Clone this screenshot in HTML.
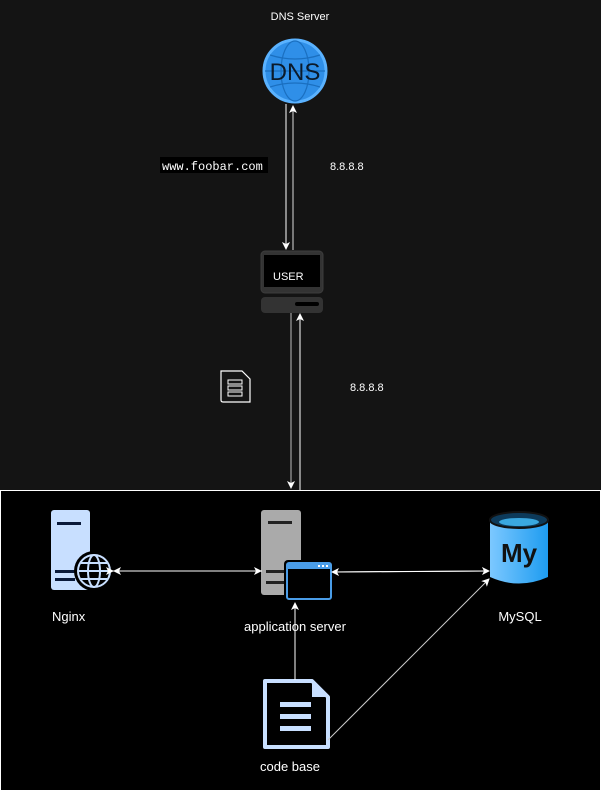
<!DOCTYPE html>
<html><head><style>
body{margin:0;width:601px;height:791px;background:#141414;overflow:hidden;font-family:"Liberation Sans",sans-serif;}
</style></head><body>
<svg width="601" height="791" xmlns="http://www.w3.org/2000/svg" style="position:absolute;left:0;top:0">
<defs>
<marker id="a" markerWidth="8" markerHeight="8" refX="7" refY="4" orient="auto" markerUnits="userSpaceOnUse"><path d="M0,0 L8,4 L0,8 L2,4z" fill="#fff"/></marker>
<linearGradient id="db" x1="0" x2="1"><stop offset="0" stop-color="#7cc8ff"/><stop offset="1" stop-color="#1e9cf0"/></linearGradient>
</defs>
<rect x="0" y="0" width="601" height="490" fill="#141414"/>
<rect x="0.5" y="490.5" width="600" height="300" fill="#000" stroke="#fff" stroke-width="1"/>
<text x="300" y="20" fill="#fff" font-size="11" text-anchor="middle">DNS Server</text>
<!-- DNS globe -->
<circle cx="295" cy="71" r="31" fill="#2f8fe8" stroke="#5ab2ff" stroke-width="3"/>
<g stroke="#1a6fc0" fill="none" stroke-width="1.2"><ellipse cx="295" cy="71" rx="14" ry="30"/><line x1="265" y1="71" x2="325" y2="71"/><path d="M270 55 Q295 63 320 55 M270 87 Q295 79 320 87"/></g>
<text x="295" y="80" fill="#0b1a2a" font-size="24" text-anchor="middle">DNS</text>
<!-- DNS arrows -->
<line x1="286" y1="104" x2="286" y2="249" stroke="#fff" marker-end="url(#a)"/>
<line x1="293" y1="250" x2="293" y2="106" stroke="#ddd" marker-end="url(#a)"/>
<rect x="160" y="157" width="108" height="16" fill="#000"/>
<text x="162" y="170" fill="#fff" font-size="12" font-family="Liberation Mono,monospace">www.foobar.com</text>
<text x="330" y="170" fill="#fff" font-size="11">8.8.8.8</text>
<!-- user -->
<rect x="261" y="251" width="62" height="42" rx="4" fill="#333" stroke="#3d3d3d"/>
<rect x="264" y="255" width="56" height="32" fill="#000"/>
<text x="273" y="280" fill="#fff" font-size="11">USER</text>
<rect x="261" y="297" width="62" height="16" rx="4" fill="#333"/>
<rect x="295" y="302" width="24" height="4" rx="2" fill="#000"/>
<line x1="291" y1="313" x2="291" y2="488" stroke="#bbb" marker-end="url(#a)"/>
<line x1="300" y1="490" x2="300" y2="314" stroke="#fff" marker-end="url(#a)"/>
<text x="350" y="391" fill="#fff" font-size="11">8.8.8.8</text>
<!-- small doc -->
<path d="M221 371 H242 L250 379 V402 Q250 402 248 402 H223 Q221 402 221 400z" fill="none" stroke="#fff" stroke-width="1.2"/>
<g stroke="#fff" fill="none"><rect x="228" y="380" width="14" height="4"/><rect x="228" y="386" width="14" height="4"/><rect x="228" y="392" width="14" height="4"/></g>
<!-- nginx -->
<rect x="51" y="510" width="39" height="80" rx="3" fill="#c8dfff"/>
<rect x="57" y="522" width="24" height="3" fill="#0a1a3a"/>
<rect x="55" y="570" width="20" height="3" fill="#0a1a3a"/><rect x="55" y="578" width="20" height="3" fill="#0a1a3a"/>
<circle cx="94" cy="571" r="20" fill="#000"/>
<circle cx="94" cy="571" r="16" fill="none" stroke="#c8dfff" stroke-width="2"/>
<g stroke="#c8dfff" fill="none" stroke-width="2"><ellipse cx="94" cy="571" rx="6" ry="16"/><line x1="78" y1="571" x2="110" y2="571"/><line x1="81" y1="563" x2="107" y2="563"/><line x1="81" y1="579" x2="107" y2="579"/></g>
<text x="52" y="621" fill="#fff" font-size="13">Nginx</text>
<!-- app server -->
<rect x="261" y="510" width="40" height="85" rx="3" fill="#aaa"/>
<rect x="268" y="521" width="24" height="3" fill="#222"/>
<rect x="266" y="570" width="20" height="3" fill="#222"/><rect x="266" y="581" width="20" height="3" fill="#222"/>
<rect x="284" y="560" width="50" height="42" rx="4" fill="#000"/>
<rect x="287" y="563" width="44" height="36" rx="2" fill="#000" stroke="#4a9de8" stroke-width="2"/>
<rect x="287" y="563" width="44" height="6" fill="#4a9de8"/>
<g fill="#fff"><rect x="318" y="565" width="2" height="2"/><rect x="322" y="565" width="2" height="2"/><rect x="326" y="565" width="2" height="2"/></g>
<text x="295" y="631" fill="#fff" font-size="13" text-anchor="middle">application server</text>
<line x1="113" y1="571" x2="261" y2="571" stroke="#fff" marker-end="url(#a)" marker-start="url(#a)"/>
<line x1="262" y1="571" x2="114" y2="571" stroke="#fff" marker-end="url(#a)"/>
<!-- mysql -->
<path d="M490 520 V577 Q519 590 548 577 V520z" fill="url(#db)"/>
<ellipse cx="519" cy="520" rx="29" ry="8" fill="#0d3a5a" stroke="#111" stroke-width="2"/>
<ellipse cx="519" cy="522" rx="20" ry="4" fill="#3aa8e0"/>
<text x="519" y="562" fill="#111" font-size="26" font-weight="bold" text-anchor="middle">My</text>
<text x="520" y="621" fill="#fff" font-size="13" text-anchor="middle">MySQL</text>
<line x1="333" y1="572" x2="489" y2="571" stroke="#fff" marker-end="url(#a)"/>
<line x1="488" y1="571" x2="332" y2="572" stroke="#fff" marker-end="url(#a)"/>
<!-- codebase -->
<path d="M265 681 H312 L328 697 V747 H265z" fill="#000" stroke="#c8dfff" stroke-width="4" stroke-linejoin="round"/>
<path d="M312 682 V697 H327z" fill="#c8dfff"/>
<g fill="#c8dfff"><rect x="280" y="702" width="31" height="5"/><rect x="280" y="714" width="31" height="5"/><rect x="280" y="726" width="31" height="5"/></g>
<line x1="295" y1="680" x2="295" y2="603" stroke="#fff" marker-end="url(#a)"/>
<line x1="328" y1="740" x2="489" y2="579" stroke="#ccc" marker-end="url(#a)"/>
<text x="290" y="771" fill="#fff" font-size="13" text-anchor="middle">code base</text>
</svg>
</body></html>
